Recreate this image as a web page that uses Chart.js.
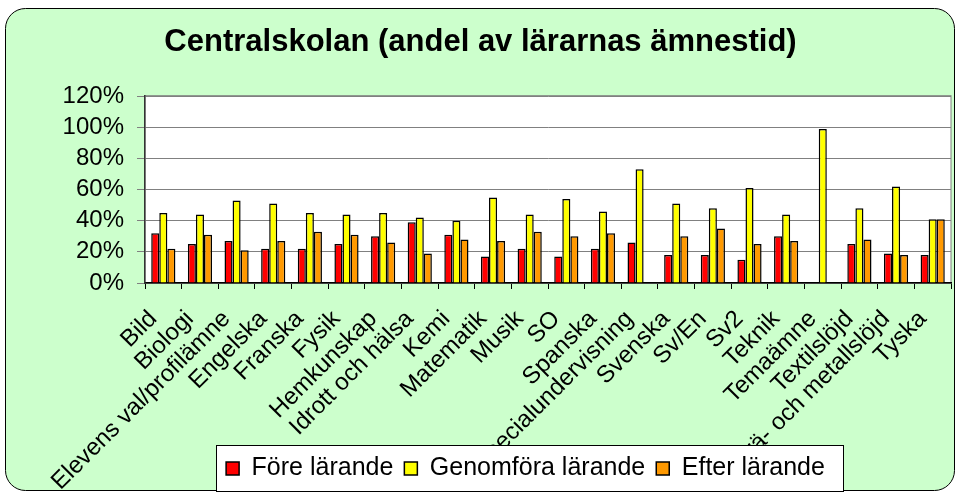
<!DOCTYPE html>
<html>
<head>
<meta charset="utf-8">
<script src="https://cdn.jsdelivr.net/npm/chart.js@4/dist/chart.umd.min.js"></script>
<style>
  html, body { margin: 0; padding: 0; background: #fff; }
  canvas { display: block; }
</style>
</head>
<body>
<canvas id="chart" width="956" height="493"></canvas>
<script>
// subjects on the x axis
const subjects = [
    'Bild', 'Biologi', 'Elevens val/profilämne', 'Engelska', 'Franska', 'Fysik',
    'Hemkunskap', 'Idrott och hälsa', 'Kemi', 'Matematik', 'Musik', 'SO',
    'Spanska', 'Specialundervisning', 'Svenska', 'Sv/En', 'Sv2', 'Teknik',
    'Temaämne', 'Textilslöjd', 'Trä- och metallslöjd', 'Tyska'
];

// share of teachers' subject time, in percent
const foreLarande = [32, 25, 27, 22, 22, 25, 30, 39, 31, 17, 22, 17, 22, 26, 18, 18, 15, 30, 0, 25, 19, 18];
const genomforaLarande = [45, 44, 53, 51, 45, 44, 45, 42, 40, 55, 44, 54, 46, 73, 51, 48, 61, 44, 99, 48, 62, 41];
const efterLarande = [22, 31, 21, 27, 33, 31, 26, 19, 28, 27, 33, 30, 32, 0, 30, 35, 25, 27, 0, 28, 18, 41];

const yTicks = [0, 20, 40, 60, 80, 100, 120];

Chart.defaults.font.family = '"Liberation Sans", Arial, sans-serif';
Chart.defaults.color = '#000';

// green rounded frame + white plot area behind everything
const frame = {
    id: 'frame',
    beforeDraw(chart) {
        const ctx = chart.ctx;
        const a = chart.chartArea;
        ctx.save();
        ctx.fillStyle = '#fff';
        ctx.fillRect(0, 0, chart.width, chart.height);
        ctx.beginPath();
        ctx.roundRect(5.5, 8.5, 949, 482, 20);
        ctx.fillStyle = '#CCFFCC';
        ctx.fill();
        ctx.strokeStyle = '#000';
        ctx.lineWidth = 1;
        ctx.stroke();
        ctx.fillStyle = '#fff';
        ctx.fillRect(a.left, a.top, a.right - a.left, a.bottom - a.top);
        ctx.strokeStyle = '#808080';
        ctx.strokeRect(a.left, a.top - 0.5, a.right - a.left, a.bottom - a.top);
        ctx.restore();
    },
    afterLayout(chart) {
        // legend sits right of centre in the original
        chart.legend.left += 45;
        chart.legend.right += 45;
        // let the long rotated labels run down past the legend top
        chart.scales.x.bottom = chart.height;
    },
    afterDraw(chart) {
        // white bordered legend box over the clipped axis labels
        const lg = chart.legend;
        const boxes = lg.legendHitBoxes;
        const first = boxes[0];
        const last = boxes[boxes.length - 1];
        const x0 = Math.round(first.left - 10) + 0.5;
        const x1 = Math.round(last.left + last.width + 18) + 0.5;
        const y0 = Math.round(lg.top) + 0.5;
        const y1 = Math.round(lg.bottom) + 0.5;
        const ctx = chart.ctx;
        ctx.save();
        ctx.fillStyle = '#fff';
        ctx.fillRect(x0, y0, x1 - x0, y1 - y0);
        ctx.strokeStyle = '#000';
        ctx.lineWidth = 1;
        ctx.strokeRect(x0, y0, x1 - x0, y1 - y0);
        ctx.restore();
        lg.draw();
    }
};

const barStyle = { borderColor: '#000', borderWidth: 1.5, barPercentage: 1, categoryPercentage: 0.66 };

new Chart(document.getElementById('chart'), {
    type: 'bar',
    data: {
        labels: subjects,
        datasets: [
            { label: 'Före lärande', data: foreLarande, backgroundColor: '#FF0000', ...barStyle },
            { label: 'Genomföra lärande', data: genomforaLarande, backgroundColor: '#FFFF00', ...barStyle },
            { label: 'Efter lärande', data: efterLarande, backgroundColor: '#FF9900', ...barStyle }
        ]
    },
    options: {
        responsive: false,
        animation: false,
        layout: { padding: { left: 10, right: 5, top: 8, bottom: 2 } },
        plugins: {
            tooltip: { enabled: false },
            title: {
                display: true,
                text: 'Centralskolan (andel av lärarnas ämnestid)',
                font: { size: 31, weight: 'bold' },
                color: '#000',
                padding: { top: 16, bottom: 35 }
            },
            legend: {
                position: 'bottom',
                labels: {
                    font: { size: 25 },
                    boxWidth: 13,
                    boxHeight: 13,
                    padding: 11,
                    color: '#000'
                }
            }
        },
        scales: {
            x: {
                offset: true,
                grid: {
                    offset: true,
                    drawOnChartArea: false,
                    tickLength: 6,
                    color: '#000'
                },
                border: { color: '#000', width: 1.5 },
                ticks: {
                    autoSkip: false,
                    maxRotation: 45,
                    minRotation: 45,
                    padding: 16,
                    labelOffset: -10,
                    font: { size: 24 },
                    color: '#000'
                },
                afterFit(scale) {
                    scale.height = 162;
                    scale.paddingLeft = 0;
                    scale.paddingRight = 0;
                }
            },
            y: {
                min: 0,
                max: 120,
                afterBuildTicks(scale) { scale.ticks = yTicks.map(v => ({ value: v })); },
                grid: { color: '#808080', lineWidth: 1, tickLength: 8 },
                border: { color: '#333', width: 1.5 },
                ticks: {
                    autoSkip: false,
                    padding: 13,
                    font: { size: 24 },
                    color: '#000',
                    callback: v => v + '%'
                },
                afterFit(scale) { scale.width = 135; }
            }
        }
    },
    plugins: [frame]
});
</script>
</body>
</html>
